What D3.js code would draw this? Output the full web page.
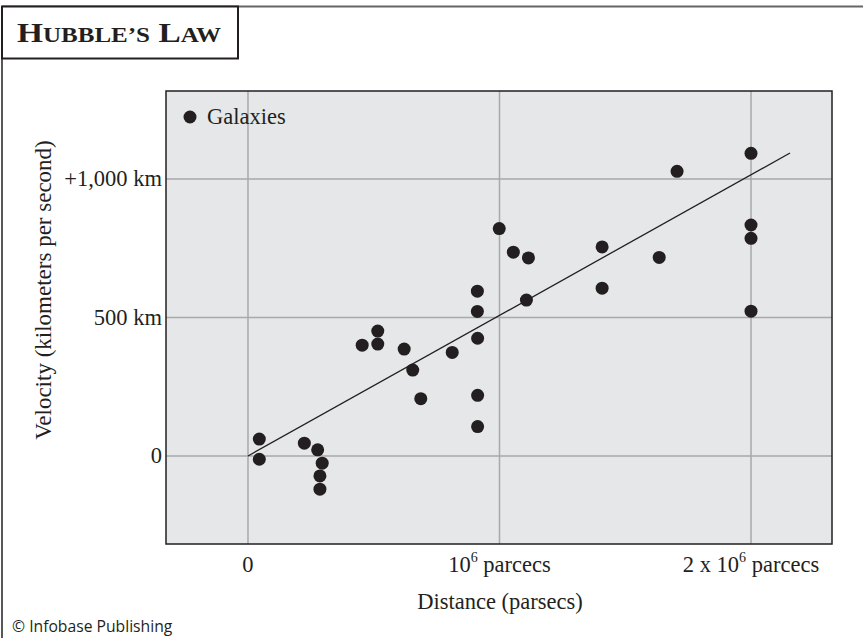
<!DOCTYPE html>
<html>
<head>
<meta charset="utf-8">
<script src="https://cdn.jsdelivr.net/npm/d3@7"></script>
<style>
  body { margin: 0; background: #fff; }
  svg text { fill: #231f20; }
</style>
</head>
<body>
<svg id="chart" width="863" height="638"></svg>
<script>
// distance in millions of parsecs, velocity in km/s
const distance = [0.045, 0.045, 0.224, 0.277, 0.295, 0.286, 0.286, 0.454, 0.516, 0.516,
  0.621, 0.655, 0.687, 0.812, 0.913, 0.913, 0.913, 0.912, 0.912, 0.999,
  1.055, 1.115, 1.107, 1.408, 1.408, 1.635, 1.706, 2.0, 2.0, 2.0, 2.0];
const velocity = [61, -12, 46, 22, -26, -72, -120, 400, 451, 404,
  386, 310, 207, 374, 425, 219, 106, 595, 522, 821,
  736, 715, 563, 755, 606, 717, 1028, 1093, 834, 786, 523];
const xTicks = [0, 1, 2];
const xTickLabels = ["0", "10|6| parcecs", "2 x 10|6| parcecs"];
const yTicks = [0, 500, 1000];
const yTickLabels = ["0", "500 km", "+1,000 km"];
const fitLine = [[0, 0], [2.155, 1094]];

const svg = d3.select("#chart");
const serif = "'Liberation Serif', 'DejaVu Serif', serif";
const ink = "#231f20";
const fs = 22.5;

// frame
svg.append("line").attr("x1", 2).attr("x2", 863).attr("y1", 6.5).attr("y2", 6.5)
  .attr("stroke", "#666").attr("stroke-width", 2);
svg.append("line").attr("x1", 2).attr("x2", 2).attr("y1", 6).attr("y2", 638)
  .attr("stroke", ink).attr("stroke-width", 1.5);
svg.append("rect").attr("x", 2).attr("y", 6.5).attr("width", 236).attr("height", 52)
  .attr("fill", "#fff").attr("stroke", ink).attr("stroke-width", 2);

// title in small caps
const title = svg.append("text").attr("x", 17).attr("y", 42)
  .attr("font-family", serif).attr("font-weight", "bold").attr("font-size", 28)
  .attr("textLength", 204).attr("lengthAdjust", "spacingAndGlyphs");
[["H", 28], ["UBBLE’S", 21], [" L", 28], ["AW", 21]].forEach(([t, s]) => {
  title.append("tspan").attr("font-size", s).text(t);
});

const pLeft = 166, pRight = 832, pTop = 91, pBottom = 544;
const x = d3.scaleLinear().domain([-0.326, 2.322]).range([pLeft, pRight]);
const y = d3.scaleLinear().domain([-318, 1318]).range([pBottom, pTop]);

svg.append("rect").attr("x", pLeft).attr("y", pTop)
  .attr("width", pRight - pLeft).attr("height", pBottom - pTop)
  .attr("fill", "#e6e7e8");

// grid
svg.append("g").selectAll("line").data(xTicks).join("line")
  .attr("x1", d => x(d)).attr("x2", d => x(d)).attr("y1", pTop).attr("y2", pBottom)
  .attr("stroke", "#a7a9ac").attr("stroke-width", 1.5);
svg.append("g").selectAll("line").data(yTicks).join("line")
  .attr("x1", pLeft).attr("x2", pRight).attr("y1", d => y(d)).attr("y2", d => y(d))
  .attr("stroke", "#a7a9ac").attr("stroke-width", 1.5);

svg.append("rect").attr("x", pLeft).attr("y", pTop)
  .attr("width", pRight - pLeft).attr("height", pBottom - pTop)
  .attr("fill", "none").attr("stroke", ink).attr("stroke-width", 1.5);

// fit line
svg.append("line")
  .attr("x1", x(fitLine[0][0])).attr("y1", y(fitLine[0][1]))
  .attr("x2", x(fitLine[1][0])).attr("y2", y(fitLine[1][1]))
  .attr("stroke", ink).attr("stroke-width", 1.3);

// points
svg.append("g").selectAll("circle").data(distance).join("circle")
  .attr("cx", d => x(d)).attr("cy", (d, i) => y(velocity[i]))
  .attr("r", 6.5).attr("fill", ink);

// legend
svg.append("circle").attr("cx", 190).attr("cy", 117).attr("r", 6.5).attr("fill", ink);
svg.append("text").attr("x", 207).attr("y", 124).attr("font-family", serif)
  .attr("font-size", fs).text("Galaxies");

// y tick labels
svg.append("g").selectAll("text").data(yTicks).join("text")
  .attr("x", pLeft - 4).attr("y", d => y(d) + 7)
  .attr("text-anchor", "end").attr("font-family", serif).attr("font-size", fs)
  .text((d, i) => yTickLabels[i]);

// x tick labels with superscripts
svg.append("g").selectAll("text").data(xTicks).join("text")
  .attr("x", d => x(d)).attr("y", 572)
  .attr("text-anchor", "middle").attr("font-family", serif).attr("font-size", fs)
  .each(function (d, i) {
    const parts = xTickLabels[i].split("|");
    const t = d3.select(this);
    parts.forEach((p, k) => {
      const sp = t.append("tspan").text(p);
      if (k === 1) sp.attr("font-size", 14).attr("dy", -10);
      if (k === 2) sp.attr("dy", 10);
    });
  });

// axis titles
svg.append("text").attr("x", 500).attr("y", 609).attr("text-anchor", "middle")
  .attr("font-family", serif).attr("font-size", fs).text("Distance (parsecs)");
svg.append("text").attr("transform", "translate(51,290) rotate(-90)")
  .attr("text-anchor", "middle").attr("font-family", serif).attr("font-size", 23)
  .text("Velocity (kilometers per second)");

svg.append("text").attr("x", 12).attr("y", 632)
  .attr("font-family", "'Open Sans', 'Noto Sans', sans-serif").attr("font-size", 15.7)
  .text("© Infobase Publishing");
</script>
</body>
</html>
